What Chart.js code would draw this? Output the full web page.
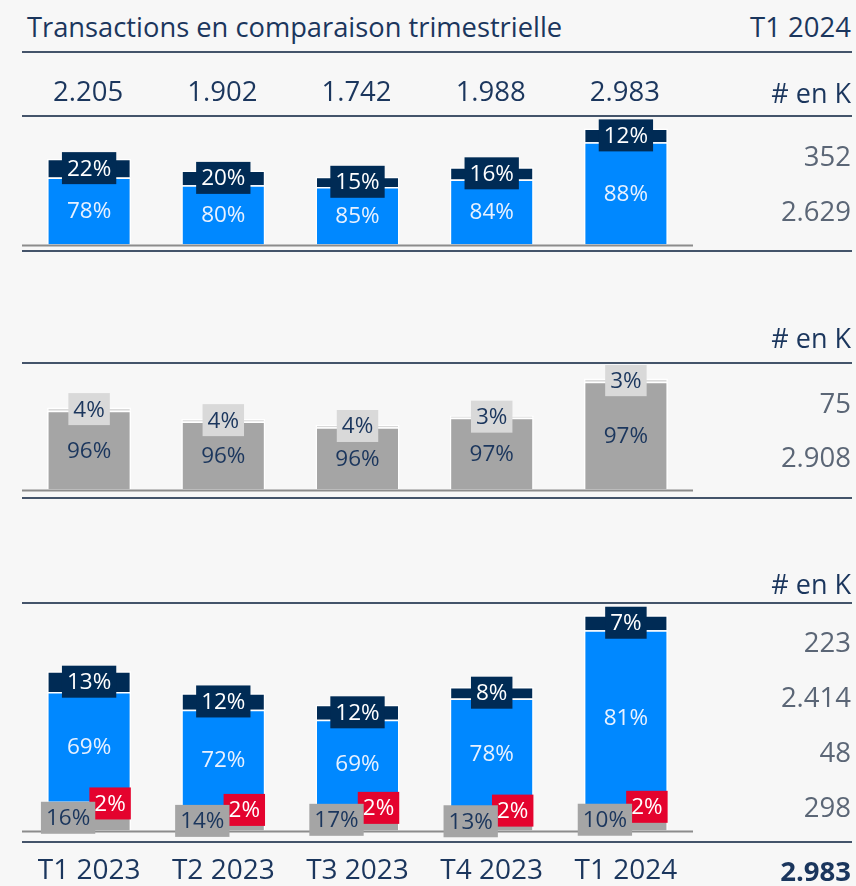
<!DOCTYPE html>
<html>
<head>
<meta charset="utf-8">
<script src="https://cdn.jsdelivr.net/npm/chart.js@4.4.1/dist/chart.umd.min.js"></script>
<style>
  body { margin: 0; background: #f7f7f7; font-family: 'Open Sans', sans-serif; }
  #page { position: relative; width: 856px; height: 886px; overflow: hidden; background: #f7f7f7; }
  .rule { position: absolute; left: 22px; width: 830px; height: 2px; background: #44546a; }
  .txt { position: absolute; white-space: nowrap; height: 36px; line-height: 36px; }
  canvas { position: absolute; left: 0; }
</style>
</head>
<body>
<div id="page">
  <div class="txt" style="left:27px; top:9px; font-size:27.3px; color:#1b365d;">Transactions en comparaison trimestrielle</div>
  <div class="txt" style="right:5px; top:9px; font-size:27.5px; color:#1b365d;">T1 2024</div>

  <div class="rule" style="top:51px;"></div>
  <div class="rule" style="top:115px;"></div>
  <div class="rule" style="top:250px;"></div>
  <div class="rule" style="top:362px;"></div>
  <div class="rule" style="top:497px;"></div>
  <div class="rule" style="top:602px;"></div>
  <div class="rule" style="top:841px;"></div>

  <canvas id="panel1" width="856" height="190" style="top:60px;"></canvas>
  <canvas id="panel2" width="856" height="130" style="top:365px;"></canvas>
  <canvas id="panel3" width="856" height="281" style="top:605px;"></canvas>
</div>

<script>
  // Categories and totals (# en K)
  const categories = ['T1 2023', 'T2 2023', 'T3 2023', 'T4 2023', 'T1 2024'];
  const totals = [2205, 1902, 1742, 1988, 2983];

  // Panel 1 shares (%)
  const p1Blue = [78, 80, 85, 84, 88];
  const p1Navy = [22, 20, 15, 16, 12];
  const p1Right = [352, 2629];

  // Panel 2 shares (%)
  const p2Gray = [96, 96, 96, 97, 97];
  const p2Light = [4, 4, 4, 3, 3];
  const p2Right = [75, 2908];

  // Panel 3 shares (%)
  const p3Gray = [16, 14, 17, 13, 10];
  const p3Red = [2, 2, 2, 2, 2];
  const p3Blue = [69, 72, 69, 78, 81];
  const p3Navy = [13, 12, 12, 8, 7];
  const p3Right = [223, 2414, 48, 298];
  const grandTotal = 2983;

  const NAVY = '#002b55';
  const BLUE = '#0088ff';
  const GRAY = '#a5a5a5';
  const LIGHT = '#d9d9d9';
  const RED = '#e4032e';
  const INK = '#1b365d';
  const FONT = '"Open Sans", sans-serif';

  // 2983 -> "2.983"
  function fmt(n) {
    return String(n).replace(/\B(?=(\d{3})+(?!\d))/g, '.');
  }

  // turn percentage parts into stacked values that add up to each total
  function split(parts) {
    return parts.map(p => p.map((v, i) => {
      const sum = parts.reduce((s, q) => s + q[i], 0);
      return totals[i] * v / sum;
    }));
  }

  // right-hand column of values
  function addText(text, cy, opts) {
    const div = document.createElement('div');
    div.className = 'txt';
    div.textContent = text;
    div.style.right = '5px';
    div.style.top = (cy - 18) + 'px';
    div.style.fontSize = (opts.size || 27.5) + 'px';
    div.style.color = opts.color || '#5b6676';
    if (opts.bold) div.style.fontWeight = 'bold';
    document.getElementById('page').appendChild(div);
  }

  addText('# en K', 93, { color: INK, size: 27 });
  p1Right.forEach((v, i) => addText(fmt(v), 156 + i * 55, {}));
  addText('# en K', 338, { color: INK, size: 27 });
  p2Right.forEach((v, i) => addText(fmt(v), 403 + i * 54, {}));
  addText('# en K', 584, { color: INK, size: 27 });
  p3Right.forEach((v, i) => addText(fmt(v), 642 + i * 55, {}));
  addText(fmt(grandTotal), 871, { color: INK, bold: true });

  // Segment labels + baseline
  const segLabels = {
    id: 'segLabels',
    afterDatasetsDraw(chart) {
      const ctx = chart.ctx;
      const area = chart.chartArea;
      ctx.save();
      ctx.fillStyle = '#8c8c8c';
      ctx.fillRect(area.left, area.bottom, area.right - area.left, 2);
      ctx.font = '22.5px ' + FONT;
      ctx.textAlign = 'center';
      ctx.textBaseline = 'middle';
      for (let d = chart.data.datasets.length - 1; d >= 0; d--) {
        const ds = chart.data.datasets[d];
        const meta = chart.getDatasetMeta(d);
        meta.data.forEach((bar, i) => {
          const text = ds.pct[i] + '%';
          const x = bar.x + (ds.dx || 0);
          const y = (bar.y + bar.base) / 2;
          if (ds.box) {
            const w = ctx.measureText(text).width + 10;
            ctx.fillStyle = ds.box;
            ctx.fillRect(x - w / 2, y - 16, w, 32);
          }
          ctx.fillStyle = ds.ink;
          ctx.fillText(text, x, y + 1);
        });
      }
      ctx.restore();
    }
  };

  // Totals row above panel 1
  const totalsRow = {
    id: 'totalsRow',
    afterDraw(chart) {
      const ctx = chart.ctx;
      const xScale = chart.scales.x;
      ctx.save();
      ctx.font = '27.5px ' + FONT;
      ctx.fillStyle = INK;
      ctx.textAlign = 'center';
      ctx.textBaseline = 'middle';
      totals.forEach((t, i) => ctx.fillText(fmt(t), xScale.getPixelForValue(i) - 1, 33));
      ctx.restore();
    }
  };

  function makeOptions(yMax, padding, showTicks) {
    const x = {
      stacked: true,
      display: showTicks,
      grid: { display: false },
      border: { display: false },
      ticks: { color: INK, padding: 16, font: { family: FONT, size: 28 } }
    };
    // fixed axis height so the baseline lands where the reference has it
    if (showTicks) x.afterFit = scale => { scale.height = 55.5; };
    return {
      responsive: false,
      animation: false,
      layout: { padding: padding },
      plugins: { legend: { display: false }, tooltip: { enabled: false } },
      datasets: {
        bar: { categoryPercentage: 1, barPercentage: 0.626, borderColor: '#ffffff', borderWidth: 1.5 }
      },
      scales: {
        x: x,
        y: { stacked: true, display: false, min: 0, max: yMax }
      }
    };
  }

  const [v1Blue, v1Navy] = split([p1Blue, p1Navy]);
  new Chart(document.getElementById('panel1'), {
    type: 'bar',
    data: {
      labels: categories,
      datasets: [
        { data: v1Blue, pct: p1Blue, backgroundColor: BLUE, ink: '#e8f1ff' },
        { data: v1Navy, pct: p1Navy, backgroundColor: NAVY, box: NAVY, ink: '#ffffff' }
      ]
    },
    options: makeOptions(3405, { left: 22, right: 163, top: 52, bottom: 5.5 }, false),
    plugins: [segLabels, totalsRow]
  });

  const [v2Gray, v2Light] = split([p2Gray, p2Light]);
  new Chart(document.getElementById('panel2'), {
    type: 'bar',
    data: {
      labels: categories,
      datasets: [
        { data: v2Gray, pct: p2Gray, backgroundColor: GRAY, ink: INK },
        { data: v2Light, pct: p2Light, backgroundColor: LIGHT, box: LIGHT, ink: INK }
      ]
    },
    options: makeOptions(3212, { left: 22, right: 163, top: 5, bottom: 5.5 }, false),
    plugins: [segLabels]
  });

  const [v3Gray, v3Red, v3Blue, v3Navy] = split([p3Gray, p3Red, p3Blue, p3Navy]);
  new Chart(document.getElementById('panel3'), {
    type: 'bar',
    data: {
      labels: categories,
      datasets: [
        { data: v3Gray, pct: p3Gray, backgroundColor: GRAY, box: GRAY, ink: INK, dx: -21 },
        { data: v3Red, pct: p3Red, backgroundColor: RED, box: RED, ink: '#ffffff', dx: 21 },
        { data: v3Blue, pct: p3Blue, backgroundColor: BLUE, ink: '#e8f1ff' },
        { data: v3Navy, pct: p3Navy, backgroundColor: NAVY, box: NAVY, ink: '#ffffff' }
      ]
    },
    options: makeOptions(3055, { left: 22, right: 163, top: 5, bottom: 0 }, true),
    plugins: [segLabels]
  });
</script>
</body>
</html>
